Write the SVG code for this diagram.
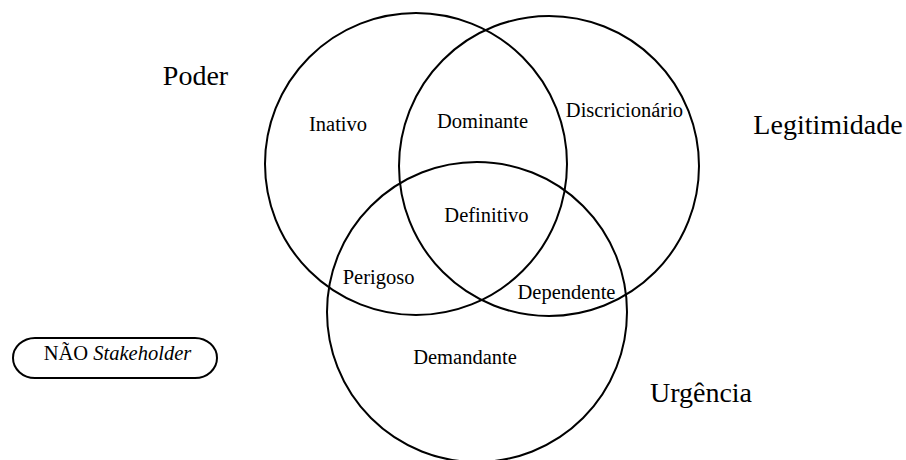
<svg xmlns="http://www.w3.org/2000/svg" width="906" height="460" viewBox="0 0 906 460">
<style>
.c{fill:none;stroke:#000;stroke-width:2}
.s{font-family:"Liberation Serif","Times New Roman",serif;font-size:20.5px;fill:#000;text-anchor:middle}
.b{font-family:"Liberation Serif","Times New Roman",serif;font-size:28px;fill:#000;text-anchor:middle}
</style>
<rect width="906" height="460" fill="#fff"/>
<g id="poder"><circle class="c" cx="416" cy="164" r="151"/></g>
<g id="legitimidade"><circle class="c" cx="549" cy="166" r="150"/></g>
<g id="urgencia"><circle class="c" cx="477" cy="312" r="150"/></g>
<g id="labels">
<text class="b" x="195.5" y="85">Poder</text>
<text class="b" x="828" y="134">Legitimidade</text>
<text class="b" x="701" y="402">Urgência</text>
</g>
<g id="regions">
<text class="s" x="338" y="131">Inativo</text>
<text class="s" x="482.5" y="128">Dominante</text>
<text class="s" x="624.5" y="117">Discricionário</text>
<text class="s" x="486.5" y="222">Definitivo</text>
<text class="s" x="378.5" y="284">Perigoso</text>
<text class="s" x="566.5" y="299">Dependente</text>
<text class="s" x="465" y="364">Demandante</text>
</g>
<g id="nao-stakeholder">
<rect x="13" y="338" width="204" height="40" rx="22" ry="20" fill="none" stroke="#000" stroke-width="2"/>
<text class="s" x="117.5" y="360">NÃO <tspan font-style="italic">Stakeholder</tspan></text>
</g>
<g id="connectors"/>
</svg>
